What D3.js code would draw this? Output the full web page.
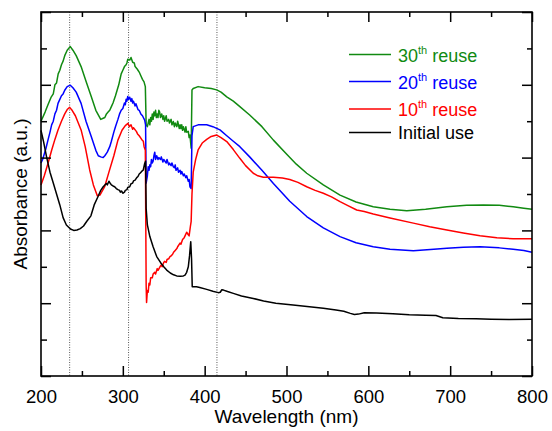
<!DOCTYPE html>
<html>
<head>
<meta charset="utf-8">
<script src="https://cdn.jsdelivr.net/npm/d3@7"></script>
<style>
html,body{margin:0;padding:0;background:#fff;}
svg{display:block;font-family:"Liberation Sans",Arial,sans-serif;}
</style>
</head>
<body>
<svg id="chart" width="552" height="431"></svg>
<script>
// ---- Data ----
const xTicks = [200, 300, 400, 500, 600, 700, 800];
const xMinorTicks = [250, 350, 450, 550, 650, 750];
const yMajorTicks = [0, 2, 4, 6, 8, 10];
const yMinorTicks = [1, 3, 5, 7, 9];
const markerLines = [235, 307, 415];

const seriesNames = ["30th reuse", "20th reuse", "10th reuse", "Initial use"];

const reuse30 = [[200,7.0],[205,7.25],[208.5,7.45],[212.6,7.67],[215,7.75],[217,8.0],[219,8.05],[221,8.3],[223,8.4],[225,8.55],[227,8.65],[229,8.8],[232,8.95],[235.8,9.05],[239,8.95],[243,8.8],[249,8.5],[255,8.1],[261.5,7.67],[267,7.3],[273,7.05],[276,7.08],[278,7.1],[280,7.2],[282,7.25],[284,7.3],[286,7.4],[288,7.5],[291,7.7],[293,7.85],[295,8.0],[297,8.2],[298,8.3],[300,8.4],[302,8.5],[304,8.55],[305,8.6],[306,8.7],[308.4,8.68],[310,8.75],[312,8.62],[314,8.6],[315,8.5],[317,8.45],[318.5,8.4],[320,8.35],[322,8.25],[324,8.15],[325.9,8.08],[327.5,7.95],[328.5,6.9],[330,6.85],[331,6.95],[332,7.05],[333,6.9],[334,7.1],[335,7.0],[336,7.2],[337,7.05],[338,7.25],[339,7.15],[340,7.3],[341,7.1],[342,7.2],[343,7.1],[344,7.3],[345,7.25],[346,7.1],[347.5,7.2],[349,7.05],[350,7.15],[351,7.0],[353,7.15],[354,7.0],[356,7.05],[357,6.95],[359,7.05],[360,6.9],[361.7,6.99],[363,6.85],[364,6.95],[366,6.85],[367,7.0],[369,6.8],[370,6.9],[371,6.8],[372,6.9],[373,6.75],[374,6.85],[376,6.7],[377,6.85],[378,6.7],[380,6.72],[381,6.55],[382,6.62],[383.5,6.26],[384.5,7.86],[386,7.9],[392,7.95],[400,7.92],[408,7.9],[414.7,7.86],[420,7.8],[427,7.67],[435,7.55],[443,7.4],[455,7.17],[470,6.85],[484,6.48],[500,6.1],[512,5.82],[524.7,5.57],[545,5.25],[565.4,4.97],[585,4.78],[606,4.65],[626.5,4.58],[647,4.54],[670,4.58],[696,4.65],[720,4.69],[740.5,4.7],[760,4.69],[777,4.65],[790,4.61],[800,4.58]];

const reuse20 = [[200,5.85],[202,5.95],[204,6.1],[206,6.25],[208.5,6.48],[211,6.7],[213,6.9],[215,7.0],[217,7.2],[219,7.3],[220.8,7.49],[223,7.6],[225,7.7],[227,7.75],[229,7.85],[232,7.95],[235.8,7.99],[239,7.92],[243,7.8],[249,7.49],[255,7.0],[261.5,6.57],[267,6.2],[270,6.05],[273,6.02],[276,6.0],[278,6.05],[281,6.15],[284,6.3],[286,6.45],[289,6.7],[291,6.85],[294,7.05],[296,7.2],[298,7.3],[300,7.35],[302,7.5],[303,7.45],[304,7.6],[305,7.55],[306,7.68],[307,7.6],[308.4,7.66],[310,7.55],[311,7.62],[312,7.5],[313,7.55],[315,7.42],[316,7.48],[318.5,7.32],[320,7.3],[322,7.2],[324,7.15],[326.7,7.03],[327.8,6.9],[328.5,5.3],[330,5.5],[331,5.75],[332,5.65],[333,5.8],[334,5.75],[335,5.95],[336,5.85],[337,5.9],[338,6.05],[339,6.15],[340,5.95],[341.4,6.05],[343,5.95],[344,6.0],[346,5.95],[347,6.02],[349,5.88],[350,5.95],[351.5,5.9],[353,5.85],[354,5.95],[356,5.8],[357,5.85],[359,5.78],[360,5.85],[361.7,5.75],[363,5.72],[364,5.8],[365,5.65],[367,5.72],[368,5.6],[370,5.65],[371,5.55],[372,5.62],[374,5.5],[375,5.55],[377,5.45],[378,5.5],[380,5.35],[381,5.4],[382,5.2],[383.5,5.15],[384.5,6.6],[386,6.85],[392,6.9],[402.5,6.9],[410,6.85],[418.7,6.76],[427,6.6],[435,6.45],[443,6.3],[455,6.02],[470,5.65],[484,5.29],[504,4.8],[524.7,4.38],[545,4.07],[565.4,3.83],[585,3.66],[606,3.55],[626.5,3.48],[655,3.44],[680,3.48],[696,3.51],[716,3.54],[736.5,3.55],[760,3.52],[777,3.48],[790,3.45],[800,3.4]];

const reuse10 = [[200,5.25],[204,5.5],[208.5,5.84],[213,6.2],[217,6.5],[220.8,6.76],[225,7.0],[229,7.2],[232,7.32],[235,7.38],[238,7.3],[242,7.15],[249,6.76],[254,6.3],[259.5,5.66],[264,5.25],[268.8,4.95],[272,4.97],[277.8,5.2],[283,5.6],[289,6.05],[294,6.48],[299,6.75],[303,6.88],[306.3,6.94],[308,6.85],[310,6.9],[312,6.78],[313,6.82],[316.5,6.72],[318,6.65],[320,6.6],[323,6.5],[325,6.45],[326,6.3],[327.5,6.2],[328.5,2.5],[329,2.02],[330,2.35],[331,2.3],[332,2.55],[333,2.5],[334,2.7],[336,2.7],[337,2.8],[339,2.85],[340,2.8],[342,2.95],[343,2.9],[345.4,3.0],[347,3.05],[348,3.0],[350,3.12],[351,3.15],[353,3.12],[354,3.2],[356,3.22],[357.6,3.28],[359,3.3],[361,3.35],[362,3.4],[364,3.45],[366,3.5],[367,3.55],[369.9,3.65],[371,3.62],[373,3.75],[375,3.8],[376,3.85],[378,3.95],[380,3.88],[381,3.85],[382.5,4.1],[383.5,4.25],[384.5,5.0],[386,5.6],[389,5.95],[392,6.21],[397,6.4],[402.5,6.5],[408,6.58],[414.7,6.62],[420,6.55],[427,6.44],[435,6.22],[443,5.98],[450,5.78],[459.4,5.57],[465,5.5],[471.7,5.46],[484,5.46],[495,5.44],[504,5.4],[514,5.32],[524.7,5.2],[535,5.1],[545,5.02],[555,4.92],[565.4,4.79],[575,4.68],[585.8,4.56],[595,4.52],[606,4.45],[626.5,4.34],[655,4.2],[675,4.1],[696,4.01],[716,3.93],[736.5,3.85],[757,3.8],[777,3.77],[800,3.77]];

const initialUse = [[200,6.75],[203,6.45],[207,6.0],[211,5.6],[215,5.3],[219,5.0],[223,4.7],[227,4.35],[231,4.15],[236,4.04],[240,4.0],[244,4.01],[248,4.05],[252,4.12],[256,4.25],[261,4.4],[265,4.7],[269.7,4.93],[273,5.1],[276,5.2],[279.8,5.29],[281,5.25],[283,5.35],[285,5.28],[286,5.25],[288,5.22],[290,5.2],[292,5.15],[294,5.12],[296,5.1],[297,5.05],[298.5,5.08],[300.2,5.02],[302,5.05],[303,5.1],[305,5.12],[306,5.18],[308.4,5.2],[310,5.28],[312,5.3],[313,5.36],[315,5.38],[317,5.45],[318.5,5.48],[320,5.55],[321,5.57],[323,5.62],[325,5.66],[326.7,5.84],[327.8,5.9],[328.5,4.6],[330,4.15],[333,3.83],[337,3.55],[341.4,3.28],[346,3.12],[350,3.0],[353.6,2.91],[358,2.83],[362,2.78],[365.8,2.75],[370,2.74],[374,2.75],[376,2.77],[378,2.85],[380,3.0],[381.5,3.3],[383,3.69],[384,3.2],[384.8,2.45],[390,2.45],[394,2.43],[402.5,2.38],[410,2.33],[416.7,2.29],[419,2.3],[421,2.37],[423,2.36],[428,2.32],[435,2.27],[445,2.2],[459.4,2.13],[472,2.06],[487,2.0],[508,1.95],[528,1.9],[545,1.86],[560.5,1.81],[570,1.78],[578,1.72],[583,1.69],[588,1.7],[595,1.74],[610,1.73],[630,1.71],[650,1.68],[670,1.67],[682.7,1.66],[691,1.6],[710,1.58],[731.6,1.57],[750,1.56],[772,1.55],[800,1.56]];

const seriesData = [reuse30, reuse20, reuse10, initialUse];
const seriesColors = ["#118a11", "#0000ff", "#ff0000", "#000000"];

// ---- Layout ----
const svg = d3.select("#chart");
const padL = 41, padR = 532, padT = 12, padB = 376;

const x = d3.scaleLinear().domain([200, 800]).range([padL, padR]);
const y = d3.scaleLinear().domain([0, 10]).range([padB, padT]);

// marker dotted lines
svg.append("g").selectAll("line").data(markerLines).join("line")
  .attr("x1", d => x(d)).attr("x2", d => x(d))
  .attr("y1", padT).attr("y2", padB)
  .attr("stroke", "#444").attr("stroke-width", 0.9)
  .attr("stroke-dasharray", "1,1.5");

// curves
const line = d3.line().x(d => x(d[0])).y(d => y(d[1]));
svg.append("g").selectAll("path").data(seriesData).join("path")
  .attr("d", line)
  .attr("fill", "none")
  .attr("stroke", (d, i) => seriesColors[i])
  .attr("stroke-width", 1.5)
  .attr("stroke-linejoin", "round");

// axes
function styleAxis(g) {
  g.select(".domain").remove();
  g.selectAll(".tick line").attr("stroke", "#000").attr("stroke-width", 1.5);
}
const fs = "18.5px";
svg.append("g").attr("transform", `translate(0,${padB})`)
  .call(d3.axisBottom(x).tickValues(xTicks).tickSize(-10).tickPadding(14).tickFormat(d3.format("d")))
  .call(styleAxis)
  .call(g => g.selectAll("text").attr("font-size", fs).attr("fill", "#000").attr("font-family", "Liberation Sans, Arial, sans-serif"));
svg.append("g").attr("transform", `translate(0,${padB})`)
  .call(d3.axisBottom(x).tickValues(xMinorTicks).tickSize(-5).tickFormat(""))
  .call(styleAxis);
svg.append("g").attr("transform", `translate(0,${padT})`)
  .call(d3.axisTop(x).tickValues(xTicks).tickSize(-10).tickFormat(""))
  .call(styleAxis);
svg.append("g").attr("transform", `translate(0,${padT})`)
  .call(d3.axisTop(x).tickValues(xMinorTicks).tickSize(-5).tickFormat(""))
  .call(styleAxis);
svg.append("g").attr("transform", `translate(${padL},0)`)
  .call(d3.axisLeft(y).tickValues(yMajorTicks).tickSize(-10).tickFormat(""))
  .call(styleAxis);
svg.append("g").attr("transform", `translate(${padL},0)`)
  .call(d3.axisLeft(y).tickValues(yMinorTicks).tickSize(-6).tickFormat(""))
  .call(styleAxis);
svg.append("g").attr("transform", `translate(${padR},0)`)
  .call(d3.axisRight(y).tickValues(yMajorTicks).tickSize(-10).tickFormat(""))
  .call(styleAxis);
svg.append("g").attr("transform", `translate(${padR},0)`)
  .call(d3.axisRight(y).tickValues(yMinorTicks).tickSize(-5).tickFormat(""))
  .call(styleAxis);

// frame
svg.append("rect").attr("x", padL).attr("y", padT)
  .attr("width", padR - padL).attr("height", padB - padT)
  .attr("fill", "none").attr("stroke", "#000").attr("stroke-width", 1.6);

// axis titles
svg.append("text").attr("x", (padL + padR) / 2).attr("y", 423)
  .attr("text-anchor", "middle").attr("font-size", "19px").attr("fill", "#000")
  .text("Wavelength (nm)");
svg.append("text").attr("transform", `translate(27,${(padT + padB) / 2}) rotate(-90)`)
  .attr("text-anchor", "middle").attr("font-size", "19px").attr("fill", "#000")
  .text("Absorbance (a.u.)");

// legend
const legendRows = [
  {num: "30", sup: "th", rest: " reuse", ly: 54.5, ty: 62},
  {num: "20", sup: "th", rest: " reuse", ly: 81.5, ty: 88.5},
  {num: "10", sup: "th", rest: " reuse", ly: 109, ty: 116},
  {num: "Initial use", sup: "", rest: "", ly: 132.5, ty: 139}
];
const lg = svg.append("g");
legendRows.forEach((r, i) => {
  lg.append("line").attr("x1", 349).attr("x2", 391).attr("y1", r.ly).attr("y2", r.ly)
    .attr("stroke", seriesColors[i]).attr("stroke-width", 1.5);
  const t = lg.append("text").attr("x", 398).attr("y", r.ty)
    .attr("font-size", "18px").attr("fill", seriesColors[i]);
  t.append("tspan").text(r.num);
  if (r.sup) {
    t.append("tspan").attr("font-size", "11px").attr("dy", -8).text(r.sup);
    t.append("tspan").attr("dy", 8).text(r.rest);
  }
});
</script>
</body>
</html>
